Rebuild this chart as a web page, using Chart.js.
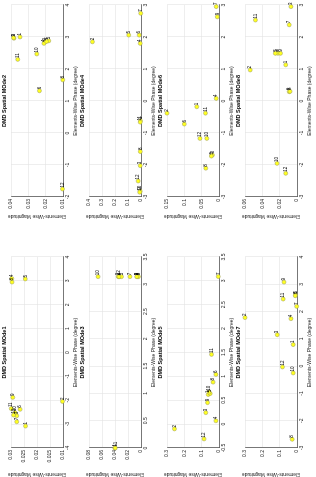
<!DOCTYPE html>
<html>
<head>
<meta charset="utf-8">
<script src="https://cdn.jsdelivr.net/npm/chart.js@4"></script>
<style>
  html, body { margin: 0; padding: 0; background: #fff; overflow: hidden; }
  /* the figure is drawn landscape, then turned a quarter turn to the left */
  #fig { position: absolute; left: 0; top: 477px; width: 477px; height: 316px;
         transform-origin: 0 0; transform: rotate(-90deg); background: #fff; }
  #fig canvas { position: absolute; }
</style>
</head>
<body>
<div id="fig"></div>
<script>
const pointIds = ['1', '2', '3', '4', '5', '6', '7', '8', '9', '10', '11', '12'];
const modeNames = ['DMD Spatial MOde1', 'DMD Spatial MOde2', 'DMD Spatial MOde3', 'DMD Spatial MOde4',
                   'DMD Spatial MOde5', 'DMD Spatial MOde6', 'DMD Spatial MOde7', 'DMD Spatial MOde8'];

const mode1Phase = [-3.08, -2.05, -2.65, 3.10, 3.08, -2.38, -2.90, 2.95, -1.88, -2.52, -2.35, -2.62];
const mode1Mag   = [0.0244, 0.0102, 0.0278, 0.0297, 0.0245, 0.0265, 0.0278, 0.0296, 0.0293, 0.0285, 0.0299, 0.0290];

const mode2Phase = [3.00, 2.84, 2.96, 2.80, 2.88, 1.32, 2.86, 1.66, 2.98, 2.47, 2.30, -1.75];
const mode2Mag   = [0.0348, 0.0205, 0.0383, 0.0210, 0.0182, 0.0236, 0.0195, 0.0101, 0.0385, 0.0251, 0.0361, 0.0103];

const mode3Phase = [0.00, 3.14, 3.14, 3.14, 3.14, 3.14, 3.14, 3.14, 3.14, 3.14, 0.00, 3.14];
const mode3Mag   = [0.0405, 0.0350, 0.0060, 0.0330, 0.0300, 0.0050, 0.0170, 0.0040, 0.0065, 0.0660, 0.0395, 0.0340];

const mode4Phase = [-0.62, 1.85, -2.02, 1.80, 2.06, 2.06, 2.74, -1.58, -2.82, -2.85, -0.66, -2.50];
const mode4Mag   = [0.004, 0.374, 0.006, 0.006, 0.094, 0.014, 0.002, 0.005, 0.006, 0.010, 0.006, 0.022];

const mode5Phase = [0.62, -0.10, 0.24, 0.07, 0.64, 1.04, 3.09, 0.88, 0.45, 0.67, 1.46, -0.31];
const mode5Mag   = [0.062, 0.257, 0.076, 0.018, 0.051, 0.018, 0.004, 0.034, 0.066, 0.057, 0.043, 0.086];

const mode6Phase = [-0.18, -0.38, -1.69, 0.08, -1.72, -0.72, 2.95, -2.10, 2.63, -1.17, -0.38, -1.17];
const mode6Mag   = [0.064, 0.150, 0.019, 0.008, 0.022, 0.100, 0.008, 0.038, 0.005, 0.035, 0.039, 0.055];

const mode7Phase = [0.79, 1.78, 1.15, 1.74, 2.61, 2.58, 2.19, -2.68, 3.08, -0.25, 2.46, -0.03];
const mode7Mag   = [0.022, 0.300, 0.114, 0.035, 0.008, 0.010, 0.002, 0.028, 0.075, 0.022, 0.080, 0.084];

const mode8Phase = [1.13, 0.97, 2.95, 1.49, 1.49, 0.29, 2.38, 0.30, 1.49, -1.95, 2.53, -2.26];
const mode8Mag   = [0.013, 0.054, 0.007, 0.022, 0.025, 0.009, 0.009, 0.008, 0.019, 0.023, 0.048, 0.013];

// axis limits and tick steps, panel by panel
const phaseMin  = [-4, -2, 0, -3, -0.5, -3, -3, -3];
const phaseMax  = [4, 4, 3.5, 3, 3.5, 3, 4, 3];
const phaseStep = [1, 1, 0.5, 1, 0.5, 1, 1, 1];
const magMin    = [0.01, 0.01, 0, 0, 0, 0, 0, 0];
const magMax    = [0.03, 0.04, 0.08, 0.4, 0.3, 0.15, 0.3, 0.06];
const magStep   = [0.005, 0.01, 0.02, 0.1, 0.1, 0.05, 0.1, 0.02];

const phases = [mode1Phase, mode2Phase, mode3Phase, mode4Phase, mode5Phase, mode6Phase, mode7Phase, mode8Phase];
const mags   = [mode1Mag, mode2Mag, mode3Mag, mode4Mag, mode5Mag, mode6Mag, mode7Mag, mode8Mag];

const FONT = '"Liberation Sans", Arial, Helvetica, sans-serif';
const fmt = v => String(Math.round(v * 1e6) / 1e6);

// number next to every point, like text(x, y, n)
const pointLabels = {
  id: 'pointLabels',
  afterDatasetsDraw(chart) {
    const ctx = chart.ctx;
    ctx.save();
    ctx.font = '4.5px ' + FONT;
    ctx.fillStyle = '#000';
    ctx.textBaseline = 'middle';
    chart.getDatasetMeta(0).data.forEach((pt, i) => {
      ctx.fillText(pointIds[i], pt.x + 1.5, pt.y);
    });
    ctx.restore();
  }
};

const fig = document.getElementById('fig');
const rowTop = [0, 78, 156, 234];

phases.forEach((ph, k) => {
  const row = Math.floor(k / 2), col = k % 2;
  const w = col ? 239 : 238, h = 81;
  const c = document.createElement('canvas');
  c.width = w; c.height = h;
  c.style.width = w + 'px'; c.style.height = h + 'px';
  c.style.left = (col ? 238 : 0) + 'px';
  c.style.top = rowTop[row] + 'px';
  fig.appendChild(c);

  const grid = { color: '#e3e3e3', lineWidth: 0.6, drawTicks: false };
  const border = { color: '#262626', width: 0.6 };
  const tickFont = { family: FONT, size: 5 };

  new Chart(c, {
    type: 'scatter',
    data: {
      datasets: [{
        data: ph.map((p, i) => ({ x: p, y: mags[k][i] })),
        pointRadius: 2,
        pointBackgroundColor: '#ffff20',
        pointBorderColor: '#9a9a60',
        pointBorderWidth: 0.5,
        clip: false
      }]
    },
    options: {
      responsive: false,
      animation: false,
      devicePixelRatio: 1,
      layout: { padding: { left: col ? 20 : 0, right: col ? 5 : 18, top: 0, bottom: 0 } },
      plugins: {
        legend: { display: false },
        tooltip: { enabled: false },
        title: {
          display: true, text: modeNames[k], fullSize: false, color: '#000',
          font: { family: FONT, size: 5.5, weight: 'bold', lineHeight: 1.2 },
          padding: { top: 1, bottom: 3.4 }
        }
      },
      scales: {
        x: {
          type: 'linear', position: 'bottom',
          min: phaseMin[k], max: phaseMax[k],
          afterFit: s => { s.height = 18; },
          grid, border,
          ticks: { stepSize: phaseStep[k], font: tickFont, color: '#262626', padding: 2,
                   maxRotation: 0, autoSkip: false, callback: fmt },
          title: { display: true, text: 'Elements-Wise Phase (degree)', color: '#262626',
                   font: { family: FONT, size: 5 }, padding: { top: 0, bottom: 2 } }
        },
        y: {
          type: 'linear', position: 'left',
          min: magMin[k], max: magMax[k],
          afterFit: s => { s.width = col ? 22 : 29; },
          grid, border,
          ticks: { stepSize: magStep[k], font: tickFont, color: '#262626', padding: 2,
                   autoSkip: false, callback: fmt },
          title: { display: true, text: 'Elements-Wise Magnitude', color: '#262626',
                   font: { family: FONT, size: 5 }, padding: { top: 0, bottom: 1 } }
        }
      }
    },
    plugins: [pointLabels]
  });
});
</script>
</body>
</html>
